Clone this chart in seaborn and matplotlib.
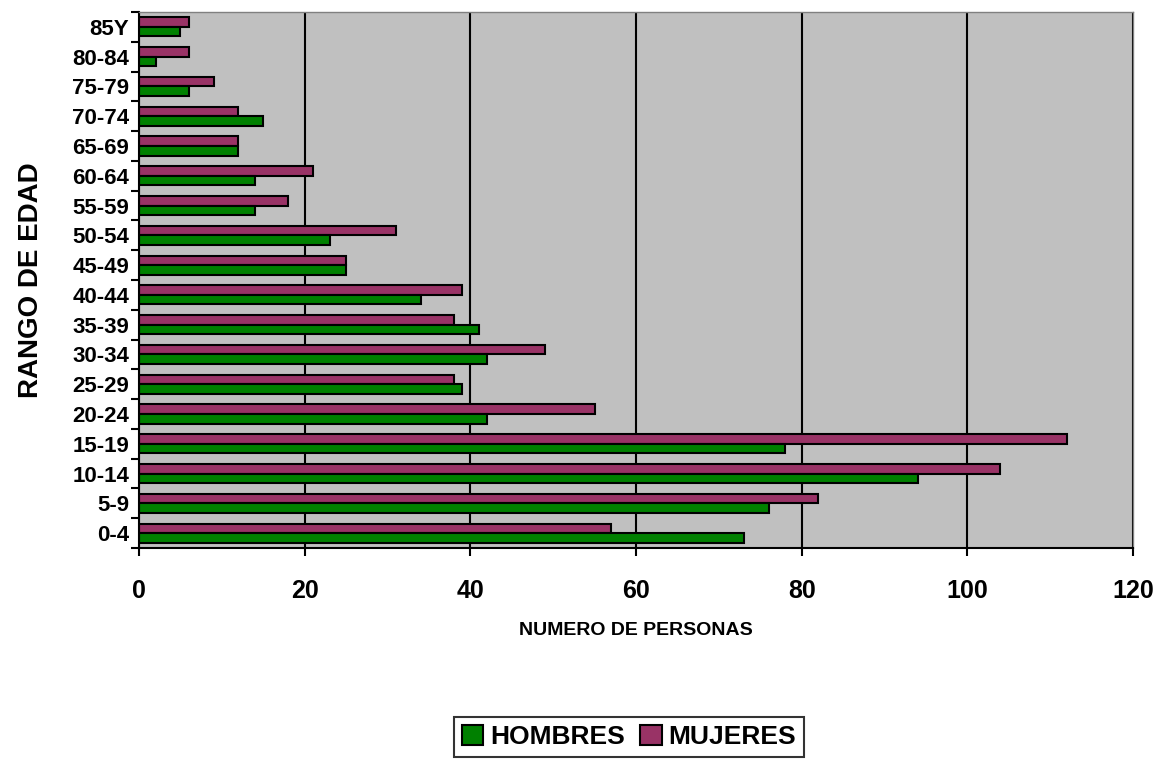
import matplotlib
matplotlib.use("Agg")
import matplotlib.pyplot as plt
import seaborn as sns
import pandas as pd
import numpy as np
from matplotlib.patches import Patch

# age groups, bottom to top
grupos = ["0-4", "5-9", "10-14", "15-19", "20-24", "25-29", "30-34", "35-39", "40-44",
          "45-49", "50-54", "55-59", "60-64", "65-69", "70-74", "75-79", "80-84", "85Y"]
hombres = [73, 76, 94, 78, 42, 39, 42, 41, 34, 25, 23, 14, 14, 12, 15, 6, 2, 5]
mujeres = [57, 82, 104, 112, 55, 38, 49, 38, 39, 25, 31, 18, 21, 12, 12, 9, 6, 6]

series = ["HOMBRES", "MUJERES"]
colores = {"HOMBRES": "#008000", "MUJERES": "#993366"}

df = pd.DataFrame({
    "Rango": grupos * 2,
    "Valor": hombres + mujeres,
    "Sexo": ["HOMBRES"] * len(grupos) + ["MUJERES"] * len(grupos),
})

sns.set_theme(style="white")
plt.rcParams["font.family"] = ["Liberation Sans", "DejaVu Sans"]
plt.rcParams.update({"text.color": "black", "axes.labelcolor": "black",
                     "xtick.color": "black", "ytick.color": "black"})

fig = plt.figure(figsize=(11.63, 7.59), dpi=100)
ax = fig.add_axes([139 / 1163, 1 - 548 / 759, (1133 - 139) / 1163, (548 - 12) / 759])

sns.barplot(data=df, x="Valor", y="Rango", hue="Sexo", order=grupos[::-1],
            hue_order=["MUJERES", "HOMBRES"], palette=colores, orient="h",
            width=0.64, edgecolor="black", linewidth=1.5, ax=ax, legend=False,
            saturation=1)

ax.set_facecolor("#C0C0C0")
ax.set_xlim(0, 120)
ax.set_ylim(len(grupos) - 0.5, -0.5)
ax.set_xticks(range(0, 121, 20))
ax.xaxis.grid(True, color="black", linewidth=1.5)
ax.yaxis.grid(False)
ax.set_axisbelow(True)

for s in ["top", "right"]:
    ax.spines[s].set_color("#808080")
    ax.spines[s].set_linewidth(1)
for s in ["left", "bottom"]:
    ax.spines[s].set_color("black")
    ax.spines[s].set_linewidth(1.5)

# y ticks at category boundaries, labels centred
ax.set_yticks(np.arange(-0.5, len(grupos), 1), minor=True)
ax.tick_params(axis="y", which="minor", length=6, width=1.5, color="black", left=True)
ax.tick_params(axis="y", which="major", length=0, pad=7, labelsize=16)
ax.tick_params(axis="x", which="major", length=6, width=1.5, color="black", bottom=True,
               pad=16, labelsize=18)
for lab in ax.get_yticklabels() + ax.get_xticklabels():
    lab.set_fontweight("bold")

ax.set_ylabel("RANGO DE EDAD", fontsize=20, fontweight="bold")
ax.yaxis.set_label_coords((44 - 139) / 994, 0.5)
ax.set_xlabel("NUMERO DE PERSONAS", fontsize=14, fontweight="bold", labelpad=14)

handles = [Patch(facecolor=colores[s], edgecolor="black", linewidth=1.5, label=s) for s in series]
leg = fig.legend(handles=handles, loc="center", bbox_to_anchor=(629 / 1163, 1 - 737 / 759), ncol=2,
                 frameon=True, fancybox=False, edgecolor="black", handlelength=0.8,
                 handleheight=0.8, handletextpad=0.25, columnspacing=0.6, borderpad=0.3,
                 prop={"weight": "bold", "size": 19})
leg.get_frame().set_linewidth(1.5)

fig.savefig("out.png", dpi=100, facecolor="white")
